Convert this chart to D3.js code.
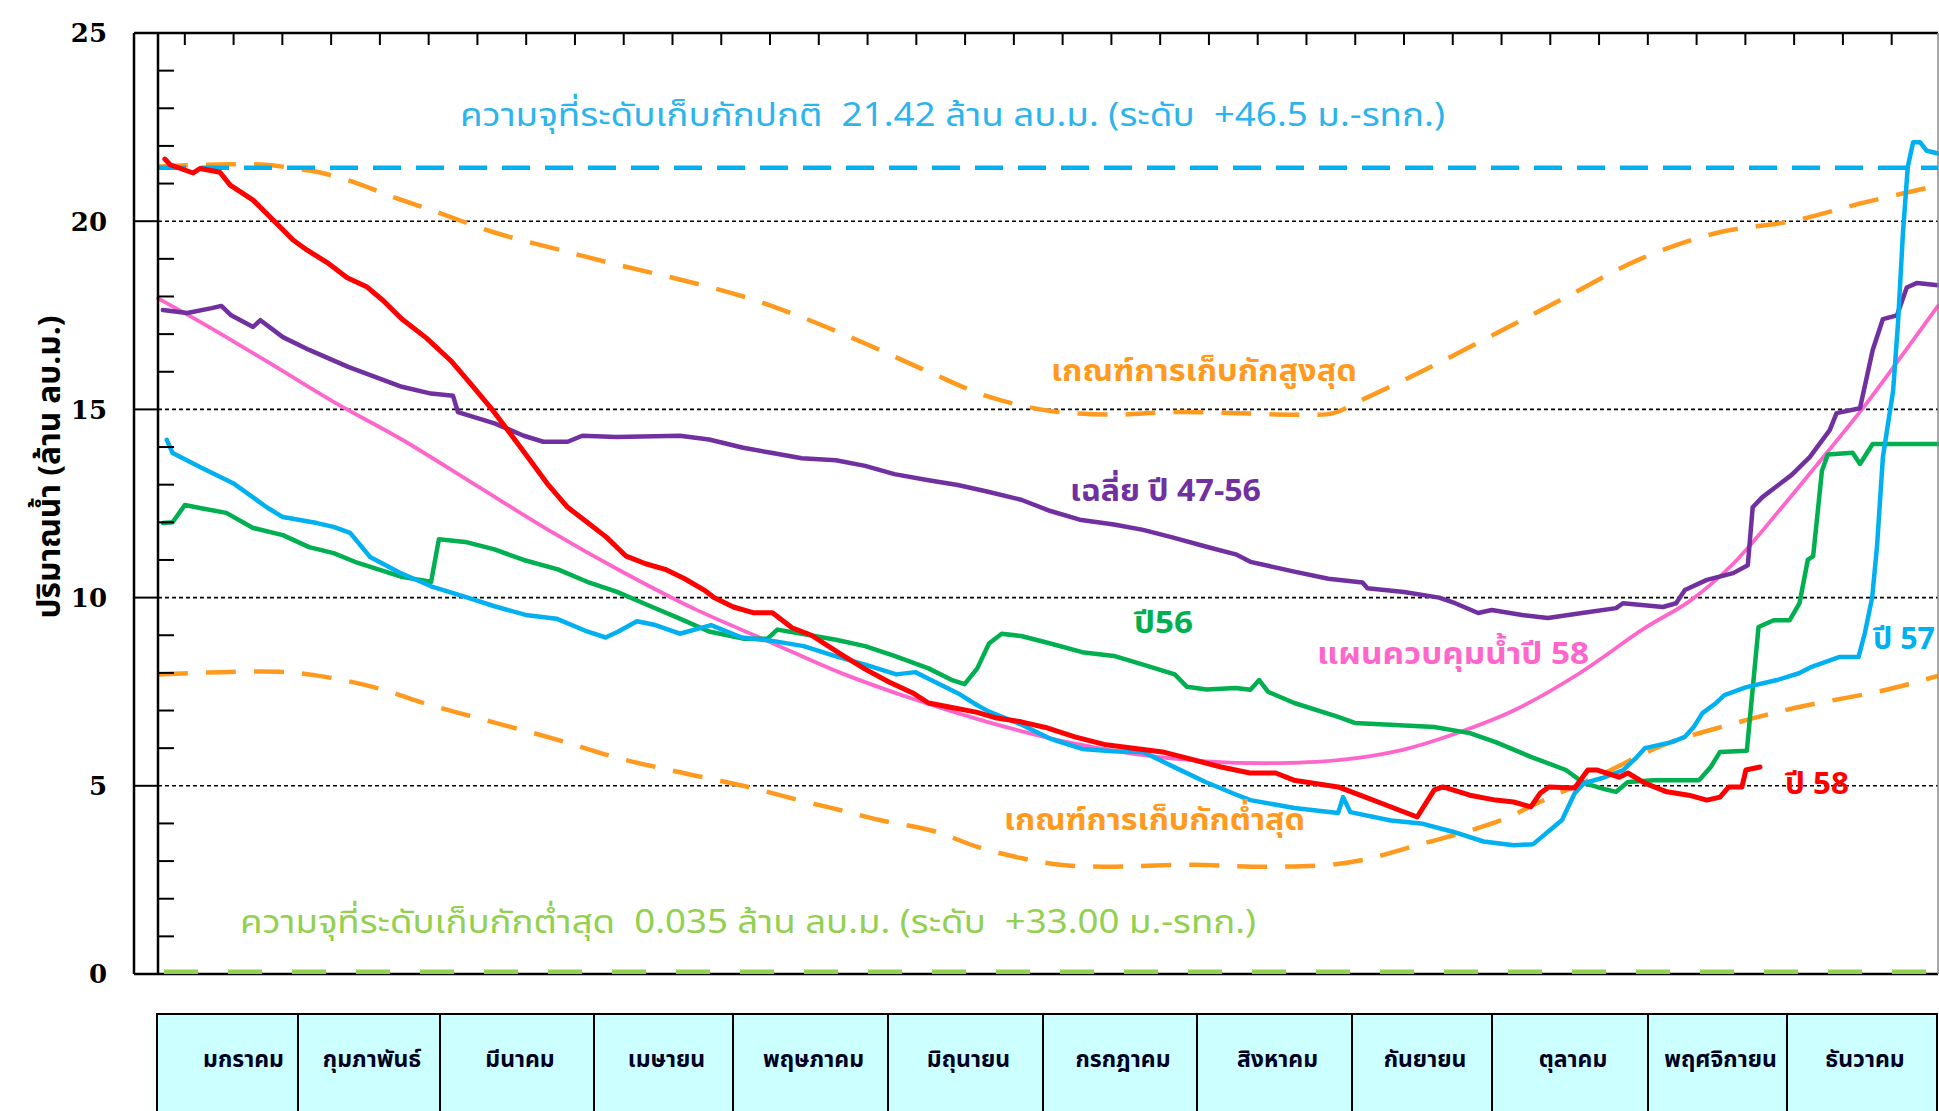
<!DOCTYPE html>
<html><head><meta charset="utf-8">
<script src="https://cdn.jsdelivr.net/npm/d3@7"></script>
<style>body{margin:0;background:#fff;overflow:hidden}</style>
</head><body><svg id="c" width="1939" height="1111"></svg>
<script>
// ---------------- DATA ----------------
const monthNames = ["มกราคม","กุมภาพันธ์","มีนาคม","เมษายน","พฤษภาคม","มิถุนายน","กรกฎาคม","สิงหาคม","กันยายน","ตุลาคม","พฤศจิกายน","ธันวาคม"];
const yTickValues = [0,5,10,15,20,25];
const normalCapacity = 21.42;
const minCapacity = 0.035;

// [day of year, million m3]
const ruleUpper = [[0,21.45],[10,21.5],[22,21.5],[28,21.4],[33,21.3],[41,21.0],[48,20.65],[56,20.3],[69,19.7],[82,19.25],[94,18.85],[107,18.45],[120,18.0],[132,17.45],[145,16.75],[158,16.0],[170,15.35],[183,14.96],[196,14.86],[208,14.93],[221,14.9],[234,14.86],[241,14.9],[246,15.2],[259,16.0],[275,17.06],[289,18.0],[304,19.0],[320,19.7],[335,20.0],[350,20.5],[365,20.95]];
const ruleLower = [[0,7.96],[13,8.02],[26,8.02],[33,7.92],[44,7.63],[56,7.14],[69,6.68],[82,6.22],[94,5.75],[107,5.36],[120,5.0],[132,4.6],[140,4.35],[148,4.09],[159,3.8],[168,3.38],[177,3.08],[185,2.9],[194,2.85],[212,2.9],[227,2.85],[240,2.9],[247,3.03],[259,3.45],[270,3.85],[277,4.17],[283,4.55],[296,5.3],[309,6.1],[323,6.65],[336,7.08],[354,7.54],[365,7.92]];
const plan58 = [[0,17.95],[9,17.3],[22,16.3],[36,15.2],[50,14.2],[65,13.0],[80,11.8],[95,10.7],[110,9.7],[125,8.85],[140,8.0],[155,7.3],[170,6.7],[185,6.2],[200,5.85],[215,5.65],[228,5.6],[242,5.68],[255,5.95],[267,6.43],[278,7.0],[291,7.95],[305,9.2],[314,9.9],[323,10.9],[333,12.4],[340,13.5],[350,15.1],[358,16.5],[365,17.75]];
const avg4756 = [[1,17.64],[6,17.56],[11,17.69],[13,17.75],[15,17.5],[19.5,17.19],[21,17.37],[25.6,16.92],[31,16.58],[39,16.13],[50,15.6],[56,15.42],[60.5,15.36],[61.5,14.93],[69,14.63],[75,14.3],[79,14.14],[84,14.14],[87,14.3],[94,14.27],[107,14.3],[113,14.2],[120,13.98],[126,13.84],[132,13.7],[139,13.65],[145,13.5],[151,13.28],[158,13.12],[164,12.99],[170,12.82],[177,12.6],[183,12.3],[189,12.07],[196,11.94],[202,11.8],[208,11.6],[215,11.35],[221,11.15],[224,10.95],[233,10.69],[240,10.5],[247,10.4],[248,10.25],[255.5,10.15],[262.7,10.0],[266,9.85],[270.7,9.59],[273.5,9.67],[279.7,9.54],[285,9.46],[292,9.59],[299,9.72],[300.4,9.85],[308.6,9.75],[311.3,9.85],[313.1,10.2],[317.6,10.47],[323,10.65],[326,10.86],[327,12.4],[329,12.67],[335,13.26],[338.7,13.73],[342.8,14.45],[344.2,14.9],[349,15.03],[351.6,16.57],[353.7,17.4],[356.6,17.5],[358.6,18.24],[360.7,18.36],[365,18.3]];
const y56 = [[1,11.98],[3,12.0],[5.5,12.46],[8.6,12.38],[14,12.25],[19.5,11.85],[25.6,11.66],[31,11.34],[36,11.18],[41,10.92],[50,10.55],[56,10.42],[57.6,11.55],[63,11.48],[69,11.28],[75,11.0],[82,10.75],[88,10.42],[94,10.16],[101,9.77],[107,9.44],[113,9.1],[120,8.91],[125,8.91],[127,9.15],[132,9.04],[139,8.88],[145,8.71],[151,8.45],[158,8.12],[163,7.8],[165.4,7.7],[168,8.12],[170.4,8.78],[173,9.04],[177,8.98],[183,8.78],[189.5,8.55],[196,8.45],[202,8.22],[208.5,7.96],[211,7.63],[215,7.56],[221,7.6],[224,7.55],[225.8,7.81],[227.6,7.5],[233,7.2],[242,6.83],[245.4,6.67],[252.7,6.62],[261.7,6.56],[269,6.4],[274.3,6.16],[281.5,5.77],[288.7,5.42],[292.4,5.07],[297,4.9],[299,4.84],[301.4,5.1],[306.7,5.15],[316,5.15],[318.4,5.5],[320.3,5.9],[325.8,5.93],[328.2,9.22],[331.3,9.4],[334.6,9.4],[336.6,9.85],[338.3,11.0],[339.4,11.1],[341.2,13.37],[342.4,13.8],[347.5,13.85],[349,13.55],[351.6,14.08],[365,14.08]];
const y57 = [[1.8,14.19],[3,13.84],[8.6,13.47],[15.4,13.04],[22.3,12.4],[25.6,12.14],[32.6,11.98],[36,11.88],[39.4,11.72],[43.5,11.08],[49.6,10.66],[56,10.3],[62.7,10.03],[69,9.77],[75.4,9.54],[81.7,9.44],[88,9.1],[91.8,8.94],[94.4,9.1],[98.2,9.37],[102,9.27],[107,9.04],[113.4,9.27],[119.7,8.94],[126,8.85],[132.4,8.71],[138.7,8.45],[145,8.22],[151.4,7.96],[155.3,8.02],[157.8,7.86],[164,7.46],[168,7.14],[170.4,6.97],[176.8,6.64],[183,6.25],[189.5,5.98],[195.8,5.92],[202,5.9],[208.5,5.49],[214.8,5.1],[221,4.77],[224,4.62],[233,4.41],[242,4.28],[243,4.7],[244.5,4.3],[252.8,4.08],[259,4.0],[265.5,3.78],[271.8,3.52],[278,3.42],[282,3.45],[287.9,4.09],[290.5,4.8],[292.4,5.07],[296,5.2],[300.5,5.42],[303.3,5.77],[304.9,6.0],[310.4,6.16],[313.1,6.3],[314.9,6.56],[316.7,6.93],[319.5,7.2],[321.2,7.41],[325.7,7.62],[332,7.81],[336.5,7.99],[339.1,8.16],[344.7,8.42],[348.7,8.42],[350,9.06],[351.5,10.0],[352.5,11.37],[353.7,13.73],[355.8,15.5],[356.8,17.3],[357.8,19.66],[358.8,21.44],[359.9,22.1],[361.3,22.1],[362.7,21.87],[365,21.8]];
const y58 = [[1.4,21.65],[2.5,21.5],[7.2,21.28],[8.6,21.4],[12.7,21.3],[14.8,20.96],[19.5,20.56],[23.6,20.03],[27.7,19.5],[30.6,19.23],[34.7,18.9],[38.8,18.5],[42.9,18.25],[46.1,17.9],[50,17.4],[55,16.9],[60,16.3],[64,15.7],[68.5,15.0],[72,14.4],[76,13.7],[80,13.0],[84,12.4],[88,12.0],[92,11.6],[96,11.1],[100,10.9],[104,10.75],[108,10.5],[112,10.2],[114,10.0],[118,9.75],[122,9.6],[126,9.6],[130,9.2],[134,9.0],[140,8.5],[145,8.1],[150,7.75],[155,7.45],[158,7.2],[162,7.1],[168,6.95],[172,6.8],[177,6.7],[182,6.55],[188,6.3],[194,6.1],[200,6.0],[206,5.9],[212,5.7],[218,5.5],[223.9,5.34],[229.2,5.34],[232.9,5.15],[242,4.97],[246.5,4.75],[251,4.53],[258.2,4.17],[261.7,4.89],[263.5,4.97],[269,4.75],[274.3,4.62],[278,4.57],[281.5,4.44],[283.4,4.8],[285.2,4.97],[290.5,4.94],[293.2,5.42],[295,5.42],[299.6,5.23],[301.4,5.34],[304.9,5.07],[309.4,4.84],[313.9,4.75],[317.6,4.62],[320.3,4.7],[322.1,4.97],[324.8,4.97],[325.6,5.42],[328.5,5.5]];

// ---------------- LAYOUT ----------------
const W = 1939, H = 1111;
const plot = {left:158, right:1938, top:33, bottom:974, frameLeft:134};
const monthCellEdges = [157,298,440,594,733,888,1043,1197,1352,1492,1648,1787,1937];
const tableTop = 1014;

const svg = d3.select("#c");
const x = d3.scaleLinear().domain([0,365]).range([plot.left, plot.right]);
const y = d3.scaleLinear().domain([0,25]).range([plot.bottom, plot.top]);
const line = d3.line().x(d=>x(d[0])).y(d=>y(d[1]));
const smooth = d3.line().x(d=>x(d[0])).y(d=>y(d[1])).curve(d3.curveCatmullRom);

// grid lines
const gridVals = yTickValues.filter(v=>v>0 && v<25);
svg.append("g").selectAll("line").data(gridVals).join("line")
  .attr("x1", plot.left).attr("x2", plot.right)
  .attr("y1", d=>y(d)).attr("y2", d=>y(d))
  .attr("stroke","#000").attr("stroke-width",1.6).attr("stroke-dasharray","4,3");

// left box segments
svg.append("g").selectAll("line").data(yTickValues).join("line")
  .attr("x1", plot.frameLeft).attr("x2", plot.left)
  .attr("y1", d=>y(d)).attr("y2", d=>y(d))
  .attr("stroke","#000").attr("stroke-width",2);

// rule curves
[ruleUpper, ruleLower].forEach(s=>{
  svg.append("path").datum(s).attr("d", smooth)
    .attr("fill","none").attr("stroke","#ff9a1e").attr("stroke-width",4.5)
    .attr("stroke-dasharray","30,18");
});

// bottom axis
svg.append("line").attr("x1",plot.frameLeft).attr("x2",plot.right)
  .attr("y1",y(0)).attr("y2",y(0)).attr("stroke","#000").attr("stroke-width",2.5);

// capacity lines
svg.append("line").attr("x1",x(0)).attr("x2",x(365))
  .attr("y1",y(normalCapacity)).attr("y2",y(normalCapacity))
  .attr("stroke","#00b0f0").attr("stroke-width",4.5).attr("stroke-dasharray","28,15");
svg.append("line").attr("x1",x(0)).attr("x2",x(365))
  .attr("y1",y(minCapacity)-1).attr("y2",y(minCapacity)-1)
  .attr("stroke","#92d050").attr("stroke-width",4.5).attr("stroke-dasharray","34,30").attr("stroke-dashoffset",-6);

// series
const series = [
  {data:plan58, color:"#ff66cc", w:3.8, smooth:true},
  {data:avg4756, color:"#7030a0", w:4.5},
  {data:y56, color:"#00b050", w:4.5},
  {data:y57, color:"#00b0f0", w:4.5},
  {data:y58, color:"#ff0000", w:5}
];
series.forEach(s=>{
  svg.append("path").datum(s.data).attr("d", s.smooth?smooth:line)
    .attr("fill","none").attr("stroke",s.color).attr("stroke-width",s.w)
    .attr("stroke-linejoin","round").attr("stroke-linecap","round");
});

// frame
svg.append("line").attr("x1",plot.frameLeft).attr("x2",plot.right).attr("y1",plot.top).attr("y2",plot.top).attr("stroke","#000").attr("stroke-width",2.5);
svg.append("line").attr("x1",plot.frameLeft).attr("x2",plot.frameLeft).attr("y1",plot.top).attr("y2",plot.bottom).attr("stroke","#000").attr("stroke-width",2.5);
svg.append("line").attr("x1",plot.left).attr("x2",plot.left).attr("y1",plot.top).attr("y2",plot.bottom).attr("stroke","#000").attr("stroke-width",2.5);
svg.append("line").attr("x1",plot.right).attr("x2",plot.right).attr("y1",plot.top).attr("y2",plot.bottom).attr("stroke","#888").attr("stroke-width",1.5);

// y minor ticks (every 1 unit, inside)
const minor = d3.range(1,25).filter(v=>v%5!==0);
svg.append("g").selectAll("line").data(minor).join("line")
  .attr("x1",plot.left).attr("x2",plot.left+16)
  .attr("y1",d=>y(d)).attr("y2",d=>y(d)).attr("stroke","#000").attr("stroke-width",2);

// top ticks every 10 days
const topTicks = d3.range(5.5, 365, 10);
svg.append("g").selectAll("line").data(topTicks).join("line")
  .attr("x1",d=>x(d)).attr("x2",d=>x(d))
  .attr("y1",plot.top).attr("y2",plot.top+12).attr("stroke","#000").attr("stroke-width",2);

// y tick labels
svg.append("g").selectAll("text").data(yTickValues).join("text")
  .attr("x",107).attr("y",d=>y(d)).attr("dy","0.36em")
  .attr("text-anchor","end")
  .attr("font-family","'DejaVu Serif', serif").attr("font-weight","bold").attr("font-size",26)
  .text(d=>d);

// y axis title
const thai = "Tahoma, 'Noto Sans Thai', 'Leelawadee UI', Loma, Garuda, 'Noto Sans', 'DejaVu Sans', sans-serif";
svg.append("text").attr("transform","translate(60,467) rotate(-90)")
  .attr("text-anchor","middle").attr("font-family",thai).attr("font-weight","bold")
  .attr("font-size",31).attr("textLength",303).attr("lengthAdjust","spacingAndGlyphs")
  .text("ปริมาณน้ำ (ล้าน ลบ.ม.)");

// month table
const cells = monthNames.map((m,i)=>({m, x0:monthCellEdges[i], x1:monthCellEdges[i+1]}));
const tg = svg.append("g");
tg.selectAll("rect").data(cells).join("rect")
  .attr("x",d=>d.x0).attr("y",tableTop).attr("width",d=>d.x1-d.x0).attr("height",H-tableTop+5)
  .attr("fill","#ccffff").attr("stroke","#000").attr("stroke-width",2);
tg.selectAll("text").data(cells).join("text")
  .attr("x",(d,i)=>(d.x0+d.x1)/2+(i===0?16:3)).attr("y",1061)
  .attr("dominant-baseline","middle")
  .attr("text-anchor","middle").attr("font-family",thai).attr("font-weight","bold")
  .attr("font-size",23).attr("fill","#000022").text(d=>d.m);

// annotations
function label(txt, xx, yy, color, size, weight, len){
  svg.append("text").attr("x",xx).attr("y",yy).attr("fill",color)
    .attr("font-family",thai).attr("font-size",size).attr("font-weight",weight||"normal")
    .attr("dominant-baseline","middle").style("white-space","pre")
    .attr("textLength",len).attr("lengthAdjust","spacingAndGlyphs").text(txt);
}
label("ความจุที่ระดับเก็บกักปกติ  21.42 ล้าน ลบ.ม. (ระดับ  +46.5 ม.-รทก.)", 460, 117, "#2db4ec", 32, "normal", 985);
label("เกณฑ์การเก็บกักสูงสุด", 1051, 373, "#ff9a1e", 30, "bold", 306);
label("เฉลี่ย ปี 47-56", 1070, 493, "#7030a0", 30, "bold", 191);
label("ปี56", 1134, 625, "#00b050", 30, "bold", 59);
label("แผนควบคุมน้ำปี 58", 1317, 656, "#ff66cc", 30, "bold", 272);
label("ปี 57", 1873, 641, "#00b0f0", 30, "bold", 62);
label("ปี 58", 1785, 786, "#ff0000", 30, "bold", 64);
label("เกณฑ์การเก็บกักต่ำสุด", 1004, 822, "#ff9a1e", 30, "bold", 301);
label("ความจุที่ระดับเก็บกักต่ำสุด  0.035 ล้าน ลบ.ม. (ระดับ  +33.00 ม.-รทก.)", 240, 924, "#92d050", 32, "normal", 1016);
</script></body></html>
